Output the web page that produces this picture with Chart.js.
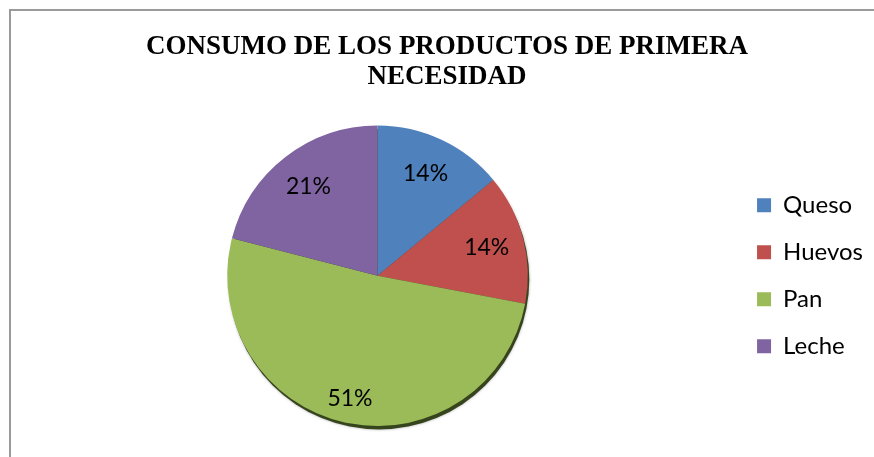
<!DOCTYPE html>
<html>
<head>
<meta charset="utf-8">
<script src="https://cdn.jsdelivr.net/npm/chart.js@4"></script>
<style>
  html, body { margin:0; padding:0; background:#fff; overflow:hidden; }
  body { width:874px; height:457px; position:relative; }
  #frame { position:absolute; left:9px; top:9px; width:900px; height:480px;
           border-left:2px solid #9a9a9a; border-top:2px solid #9a9a9a; }
  #wrap { position:absolute; left:9px; top:0; width:876px; height:457px; }
</style>
</head>
<body>
<div id="frame"></div>
<div id="wrap"><canvas id="pieChart"></canvas></div>
<script>
const categories = ["Queso", "Huevos", "Pan", "Leche"];
const values = [14, 14, 51, 21];
const colors = ["#4F81BD", "#C0504D", "#9BBB59", "#8064A2"];
const titleLines = ["CONSUMO DE LOS PRODUCTOS DE PRIMERA", "NECESIDAD"];

// how far out (fraction of radius) each percentage sits
const labelPos = [0.75, 0.75, 0.84, 0.75];

const shadowPlugin = {
  id: "shadow",
  beforeDatasetsDraw(chart) {
    const arc = chart.getDatasetMeta(0).data[0];
    if (!arc) return;
    const ctx = chart.ctx;
    ctx.save();
    ctx.fillStyle = "rgba(40,55,12,0.9)";
    ctx.shadowColor = "rgba(0,0,0,0.35)";
    ctx.shadowBlur = 3;
    ctx.beginPath();
    ctx.arc(arc.x + 1.5, arc.y + 3.5, arc.outerRadius, 0, Math.PI * 2);
    ctx.fill();
    ctx.restore();
  }
};

const pctPlugin = {
  id: "pct",
  afterDatasetsDraw(chart) {
    const ctx = chart.ctx;
    const data = chart.data.datasets[0].data;
    const total = data.reduce((a, b) => a + b, 0);
    ctx.save();
    ctx.font = "23px Lato";
    ctx.fillStyle = "#000";
    ctx.textAlign = "center";
    ctx.textBaseline = "middle";
    chart.getDatasetMeta(0).data.forEach((arc, i) => {
      const mid = (arc.startAngle + arc.endAngle) / 2;
      const r = arc.outerRadius * labelPos[i];
      const pct = Math.round(data[i] / total * 100) + "%";
      ctx.fillText(pct, arc.x + Math.cos(mid) * r, arc.y + Math.sin(mid) * r);
    });
    ctx.restore();
  }
};

new Chart(document.getElementById("pieChart"), {
  type: "pie",
  data: {
    labels: categories,
    datasets: [{
      data: values,
      backgroundColor: colors,
      borderWidth: 0
    }]
  },
  options: {
    responsive: true,
    maintainAspectRatio: false,
    animation: false,
    layout: { padding: { left: 12, right: 12, top: 0, bottom: 31 } },
    plugins: {
      title: {
        display: true,
        text: titleLines,
        color: "#000",
        font: { family: "'Liberation Serif', 'Times New Roman', serif", size: 27, weight: "bold", lineHeight: 1.1 },
        padding: { top: 32, bottom: 34 }
      },
      legend: {
        position: "right",
        fullSize: false,
        labels: {
          boxWidth: 14,
          boxHeight: 14,
          padding: 23,
          color: "#000",
          font: { family: "Lato", size: 24 }
        }
      },
      tooltip: { enabled: false }
    }
  },
  plugins: [shadowPlugin, pctPlugin]
});
</script>
</body>
</html>
